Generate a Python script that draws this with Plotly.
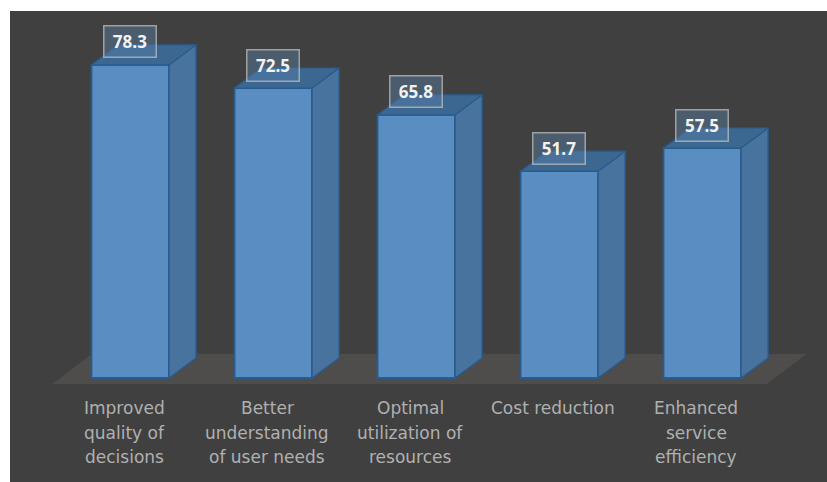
import plotly.graph_objects as go

categories = [
    "Improved<br>quality of<br>decisions",
    "Better<br>understanding<br>of user needs",
    "Optimal<br>utilization of<br>resources",
    "Cost reduction",
    "Enhanced<br>service<br>efficiency",
]
values = [78.3, 72.5, 65.8, 51.7, 57.5]

PANEL = "#404040"
FLOOR = "#4f4c4c"
FRONT = "#5a8dc1"
SIDE = "#48739f"
TOP = "#3c6791"
EDGE = "#285c8f"
LABEL_GREY = "#b0b0b0"

# Bar slot is one x unit; depth of the fake 3D box is given in axis units.
BAR_WIDTH = 0.542
DEPTH_X = 0.189
DEPTH_Y = 5.0
LINE_PX = 24.5

fig = go.Figure()
positions = list(range(len(values)))

fig.add_trace(go.Bar(
    x=positions, y=values, width=BAR_WIDTH,
    marker=dict(color=FRONT, line=dict(color=EDGE, width=1.8)),
    hoverinfo="x+y",
))

annotations = []
for i, (name, v) in enumerate(zip(categories, values)):
    left, right = i - BAR_WIDTH / 2, i + BAR_WIDTH / 2
    # right-hand face
    fig.add_trace(go.Scatter(
        x=[right, right + DEPTH_X, right + DEPTH_X, right, right],
        y=[0, DEPTH_Y, v + DEPTH_Y, v, 0],
        mode="lines", fill="toself", fillcolor=SIDE,
        line=dict(color=EDGE, width=1.4), hoverinfo="skip",
    ))
    # top face
    fig.add_trace(go.Scatter(
        x=[left, left + DEPTH_X, right + DEPTH_X, right, left],
        y=[v, v + DEPTH_Y, v + DEPTH_Y, v, v],
        mode="lines", fill="toself", fillcolor=TOP,
        line=dict(color=EDGE, width=1.2), hoverinfo="skip",
    ))
    # value tag above the box
    annotations.append(dict(
        x=i, y=v, xref="x", yref="y", text=f"<b>{v}</b>", showarrow=False,
        yanchor="middle", yshift=23, width=51, height=30,
        font=dict(family="Open Sans", size=17, color="#f2f2f2"),
        bgcolor="rgba(90,130,170,0.42)",
        bordercolor="rgba(190,190,190,0.75)", borderwidth=1.5, borderpad=0,
    ))
    # category text, one annotation per line for the wide leading
    for n, line in enumerate(name.split("<br>")):
        annotations.append(dict(
            x=i, y=0, xref="x", yref="y", xshift=-6, text=line, showarrow=False,
            xanchor="center", yanchor="middle", yshift=-30 - n * LINE_PX,
            font=dict(family="DejaVu Sans", size=17, color=LABEL_GREY),
        ))

# floor slab sits under the boxes
floor = dict(
    type="path", layer="below", xref="x", yref="y",
    path="M -0.546 -1.5 L 4.45 -1.5 L 4.73 6 L -0.27 6 Z",
    fillcolor=FLOOR, line=dict(width=0),
)

fig.update_layout(
    width=827, height=482,
    margin=dict(l=10, t=11, r=0, b=0),
    paper_bgcolor="white", plot_bgcolor=PANEL,
    showlegend=False, shapes=[floor], annotations=annotations,
    xaxis=dict(range=[-0.841, 4.872], visible=False, fixedrange=True),
    yaxis=dict(range=[-26, 91.75], visible=False, fixedrange=True),
)

fig.write_html("out.html")
